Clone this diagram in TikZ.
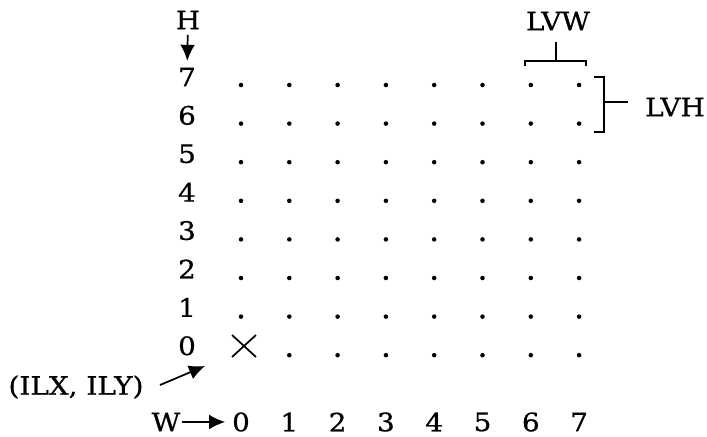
\documentclass[tikz,border=0pt]{standalone}
\usepackage{fontspec}
\setmainfont{DejaVu Serif}[FakeStretch=1.1, FakeBold=0.8]
\usetikzlibrary{arrows.meta}
\tikzset{
  lbl/.style={font=\fontsize{19}{21}\selectfont, inner sep=0pt},
  ptr/.style={-{Latex[length=12pt,width=11pt]}, line width=1.3pt},
  brk/.style={line width=1.3pt}
}
\begin{document}
\begin{tikzpicture}[x=0.75pt,y=-0.75pt]
    \useasboundingbox (0,0) rectangle (707,436);

    % 行号
    \foreach \r in {0,...,7}
        \node[lbl] (r\r) at ({187}, {77+38.4*(7-\r)}) {\r};
    % 列号
    \foreach \c in {0,...,7}
        \node[lbl] (c\c) at ({241+48.3*\c}, {422}) {\c};

    % 点阵
    \foreach \c in {1,...,7}
        \foreach \r in {0,...,7}
            \fill ({241+48.3*\c}, {85+38.6*(7-\r)}) circle (1.7pt);
    \foreach \r in {1,...,7}
        \fill ({241}, {85+38.6*(7-\r)}) circle (1.7pt);

    % 原点
    \draw[line width=1.3pt] (232,335) -- (256,357);
    \draw[line width=1.3pt] (232,357) -- (256,335);

    % 轴名
    \node[lbl] (H) at (188,20) {H};
    \draw[ptr, shorten <=4pt, shorten >=5pt] (H) -- (r7);
    \node[lbl] (W) at (166,422) {W};
    \draw[ptr, shorten <=1pt, shorten >=5pt] (W) -- (c0);

    % 起点
    \node[lbl] (ilx) at (76,387) {(ILX, ILY)};
    \coordinate (ilxtail) at (160,385);
    \coordinate (ilxtip) at (205,366);
    \draw[ptr] (ilxtail) -- (ilxtip);

    % 宽度括号
    \node[lbl] (lvw) at (558,21) {LVW};
    \draw[brk] (525,66) -- (525,61) -- (586,61) -- (586,66);
    \draw[brk] (556,42) -- (556,61);

    % 高度括号
    \node[lbl] (lvh) at (675,107) {LVH};
    \draw[brk] (594,77) -- (604,77) -- (604,132) -- (594,132);
    \draw[brk] (604,102) -- (628,102);
\end{tikzpicture}
\end{document}
